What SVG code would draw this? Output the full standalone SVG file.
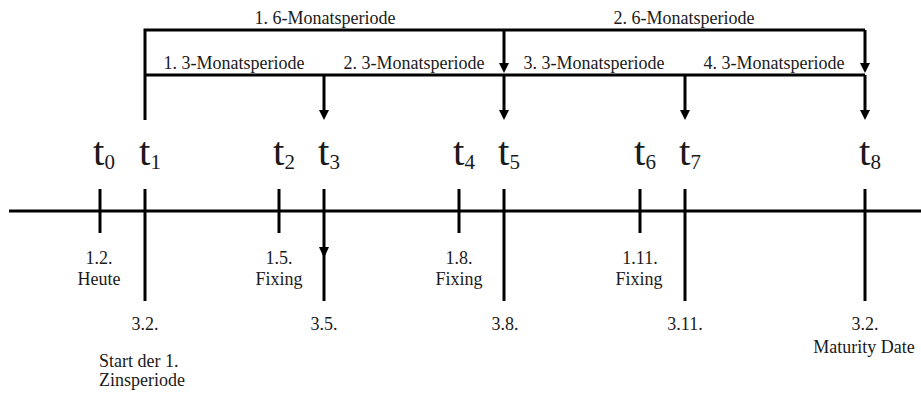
<svg xmlns="http://www.w3.org/2000/svg" width="921" height="394" viewBox="0 0 921 394" font-family="'Liberation Serif', 'Times New Roman', serif">
<style>
text{font-family:'Liberation Serif','Times New Roman',serif;fill:#1a1a1a}
.lbl{font-size:18px;text-anchor:middle}
.lbls{font-size:18px}
.t{font-size:41px}
.sub{font-size:21px}
.ln{stroke:#000;stroke-width:3;fill:none}
.arr{stroke:#000;stroke-width:3;fill:none;marker-end:url(#ah)}
</style>
<defs>
<marker id="ah" viewBox="0 0 10 10" refX="5" refY="5" markerWidth="10" markerHeight="10" markerUnits="userSpaceOnUse" orient="auto">
<path d="M0,0 L10,5 L0,10 z" fill="#000"/>
</marker>
</defs>
<rect width="921" height="394" fill="#fff"/>
<g id="connectors">
<line class="ln" x1="9" y1="211" x2="921" y2="211"/>
<path class="ln" d="M145,120 V30 H865"/>
<line class="ln" x1="145" y1="75" x2="865" y2="75"/>
<line class="arr" x1="324" y1="75" x2="324" y2="115"/>
<line class="arr" x1="504" y1="30" x2="504" y2="68"/>
<line class="arr" x1="504" y1="75" x2="504" y2="115"/>
<line class="arr" x1="685" y1="75" x2="685" y2="115"/>
<line class="arr" x1="865" y1="30" x2="865" y2="68"/>
<line class="arr" x1="865" y1="75" x2="865" y2="115"/>
</g>
<g id="period-labels">
<text class="lbl" x="325" y="24">1. 6-Monatsperiode</text>
<text class="lbl" x="684" y="24">2. 6-Monatsperiode</text>
<text class="lbl" x="234" y="69">1. 3-Monatsperiode</text>
<text class="lbl" x="414" y="69">2. 3-Monatsperiode</text>
<text class="lbl" x="594" y="69">3. 3-Monatsperiode</text>
<text class="lbl" x="774" y="69">4. 3-Monatsperiode</text>
</g>
<g id="t0">
<line class="ln" x1="100" y1="189" x2="100" y2="233"/>
<text class="t" x="93" y="165">t<tspan class="sub" dy="4">0</tspan></text>
<text class="lbl" x="99" y="264">1.2.</text>
<text class="lbl" x="99" y="285">Heute</text>
</g>
<g id="t1">
<line class="ln" x1="145" y1="189" x2="145" y2="301"/>
<text class="t" x="139" y="165">t<tspan class="sub" dy="4">1</tspan></text>
<text class="lbl" x="145" y="330">3.2.</text>
<text class="lbls" x="99" y="367">Start der 1.</text>
<text class="lbls" x="99" y="386">Zinsperiode</text>
</g>
<g id="t2">
<line class="ln" x1="279" y1="189" x2="279" y2="233"/>
<text class="t" x="273" y="165">t<tspan class="sub" dy="4">2</tspan></text>
<text class="lbl" x="279" y="264">1.5.</text>
<text class="lbl" x="279" y="285">Fixing</text>
</g>
<g id="t3">
<line class="ln" x1="324" y1="189" x2="324" y2="301"/>
<path d="M319,247 L329,247 L324,258 z" fill="#000"/>
<text class="t" x="318" y="165">t<tspan class="sub" dy="4">3</tspan></text>
<text class="lbl" x="324" y="330">3.5.</text>
</g>
<g id="t4">
<line class="ln" x1="459" y1="189" x2="459" y2="233"/>
<text class="t" x="453" y="165">t<tspan class="sub" dy="4">4</tspan></text>
<text class="lbl" x="459" y="264">1.8.</text>
<text class="lbl" x="459" y="285">Fixing</text>
</g>
<g id="t5">
<line class="ln" x1="504" y1="189" x2="504" y2="301"/>
<text class="t" x="498" y="165">t<tspan class="sub" dy="4">5</tspan></text>
<text class="lbl" x="505" y="330">3.8.</text>
</g>
<g id="t6">
<line class="ln" x1="640" y1="189" x2="640" y2="233"/>
<text class="t" x="634" y="165">t<tspan class="sub" dy="4">6</tspan></text>
<text class="lbl" x="640" y="264">1.11.</text>
<text class="lbl" x="639" y="285">Fixing</text>
</g>
<g id="t7">
<line class="ln" x1="685" y1="189" x2="685" y2="301"/>
<text class="t" x="679" y="165">t<tspan class="sub" dy="4">7</tspan></text>
<text class="lbl" x="685" y="330">3.11.</text>
</g>
<g id="t8">
<line class="ln" x1="865" y1="189" x2="865" y2="301"/>
<text class="t" x="859" y="165">t<tspan class="sub" dy="4">8</tspan></text>
<text class="lbl" x="865" y="330">3.2.</text>
<text class="lbl" x="864" y="353">Maturity Date</text>
</g>
</svg>
